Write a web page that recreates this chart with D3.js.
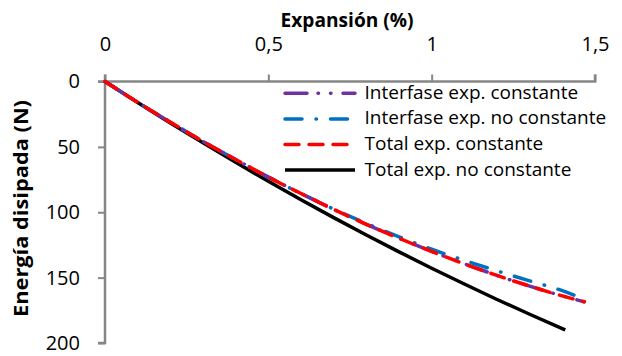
<!DOCTYPE html>
<html>
<head>
<meta charset="utf-8">
<script src="https://cdn.jsdelivr.net/npm/d3@7"></script>
<style>
  html, body { margin: 0; padding: 0; background: #fff; }
  svg { display: block; }
  text { font-family: "Open Sans", "DejaVu Sans", sans-serif; fill: #000; }
</style>
</head>
<body>
<svg id="chart" width="622" height="356"></svg>
<script>
// Expansion (%) sampled along each curve
const expansion = [0, 0.1, 0.2, 0.3, 0.4, 0.5, 0.6, 0.7, 0.8, 0.9, 1.0, 1.1, 1.2, 1.3, 1.4, 1.467];
const expansionTotalNoConst = [0, 0.1, 0.2, 0.3, 0.4, 0.5, 0.6, 0.7, 0.8, 0.9, 1.0, 1.1, 1.2, 1.3, 1.409];

// Dissipated energy (N) for each series
const interfaseConst   = [0, 15.9, 31.1, 45.8, 59.7, 73.1, 85.7, 97.8, 109.2, 119.9, 130.0, 139.5, 148.3, 156.5, 164.0, 168.5];
const interfaseNoConst = [0, 15.9, 31.1, 45.8, 59.7, 73.1, 85.7, 97.6, 108.6, 118.8, 128.3, 136.8, 144.8, 152.5, 160.0, 166.5];
const totalConst       = [0, 15.9, 31.1, 45.8, 59.7, 73.1, 85.7, 97.8, 109.2, 119.9, 130.0, 139.5, 148.3, 156.5, 164.0, 168.5];
const totalNoConst     = [0, 16.0, 31.7, 46.9, 61.8, 76.3, 90.4, 104.1, 117.4, 130.3, 142.8, 154.9, 166.7, 178.0, 190.0];

const xTicks = [0, 0.5, 1, 1.5];
const yTicks = [0, 50, 100, 150, 200];
const seriesNames = ["Interfase exp. constante", "Interfase exp. no constante", "Total exp. constante", "Total exp. no constante"];

const series = [
  { name: seriesNames[0], xs: expansion, ys: interfaseConst, color: "#7030A0", dash: "22,11,0.5,12,0.5,12" },
  { name: seriesNames[1], xs: expansion, ys: interfaseNoConst, color: "#0070C0", dash: "17,14,0.5,14" },
  { name: seriesNames[2], xs: expansion, ys: totalConst, color: "#FF0000", dash: "14,10" },
  { name: seriesNames[3], xs: expansionTotalNoConst, ys: totalNoConst, color: "#000000", dash: null }
];

const svg = d3.select("#chart");
const x = d3.scaleLinear().domain([0, 1.5]).range([105, 595]);
const y = d3.scaleLinear().domain([0, 200]).range([81.5, 343]);
const fmt = d => String(d).replace(".", ",");
const axisColor = "#868686";

// Top x axis
const gx = svg.append("g").attr("transform", `translate(0,${y(0)})`)
  .call(d3.axisTop(x).tickValues(xTicks).tickSize(7).tickPadding(24).tickFormat(fmt));
// Left y axis (inverted: 0 at top)
const gy = svg.append("g").attr("transform", `translate(${x(0)},0)`)
  .call(d3.axisLeft(y).tickValues(yTicks).tickSize(7).tickPadding(18).tickFormat(fmt));

[gx, gy].forEach(g => {
  g.select(".domain").attr("stroke", axisColor).attr("stroke-width", 2.5);
  g.selectAll(".tick line").attr("stroke", axisColor).attr("stroke-width", 2);
  g.selectAll(".tick text").style("font-size", "20px").attr("fill", "#000")
    .style("font-family", "'Open Sans', sans-serif");
});
gx.select(".domain").attr("d", `M${x(0)},-7V0H${x(1.5)}V-7`);
gy.select(".domain").attr("d", `M-7,${y(0)}H0V${y(200)}H-7`);

// Axis titles
svg.append("text").attr("x", 347).attr("y", 27).attr("text-anchor", "middle")
  .attr("textLength", 133).attr("lengthAdjust", "spacingAndGlyphs")
  .style("font-size", "19px").style("font-weight", "bold").text("Expansión (%)");
svg.append("text").attr("transform", `translate(28,208.5) rotate(-90)`).attr("text-anchor", "middle")
  .attr("textLength", 217).attr("lengthAdjust", "spacingAndGlyphs")
  .style("font-size", "19px").style("font-weight", "bold").text("Energía disipada (N)");

// Curves
const line = d3.line().x(d => x(d[0])).y(d => y(d[1])).curve(d3.curveMonotoneX);
const drawOrder = [3, 1, 0, 2];
drawOrder.forEach(i => {
  const s = series[i];
  svg.append("path")
    .datum(s.xs.map((v, k) => [v, s.ys[k]]))
    .attr("fill", "none")
    .attr("stroke", s.color)
    .attr("stroke-width", 3.5)
    .attr("stroke-dasharray", s.dash)
    .attr("stroke-linecap", s.dash ? "round" : "butt")
    .attr("d", line);
});

// Legend
const legend = svg.append("g").attr("transform", "translate(285,93.3)");
series.forEach((s, i) => {
  const g = legend.append("g").attr("transform", `translate(0,${i * 25.6})`);
  g.append("line").attr("x1", 0).attr("x2", 70).attr("y1", 0).attr("y2", 0)
    .attr("stroke", s.color).attr("stroke-width", 3.5)
    .attr("stroke-dasharray", s.dash).attr("stroke-linecap", s.dash ? "round" : "butt");
  g.append("text").attr("x", 79.5).attr("y", 5.5).style("font-size", "19px").text(s.name);
});
</script>
</body>
</html>
